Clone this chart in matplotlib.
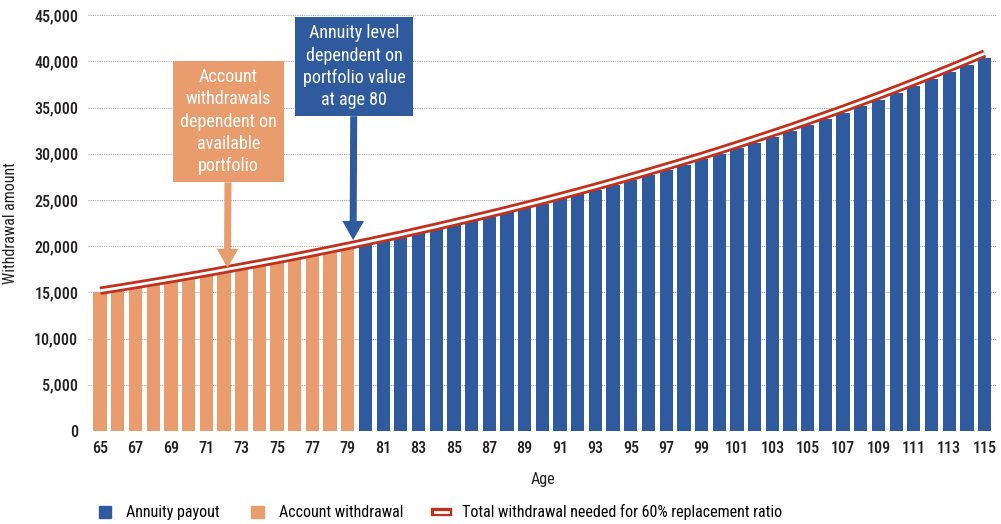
import numpy as np
import matplotlib
matplotlib.use("Agg")
import matplotlib.pyplot as plt
from matplotlib.lines import Line2D
from matplotlib.patches import Patch
from matplotlib.legend_handler import HandlerTuple
from matplotlib.ticker import FuncFormatter

plt.rcParams['font.family'] = ['Roboto Condensed', 'DejaVu Sans']

# data
ages = list(range(65, 116))
withdrawal = [15000, 15300, 15610, 15920, 16240, 16560, 16890, 17230, 17580, 17930,
              18290, 18650, 19020, 19400, 19790, 20190, 20590, 21000, 21420, 21850,
              22290, 22730, 23190, 23650, 24130, 24610, 25100, 25600, 26120, 26640,
              27170, 27710, 28270, 28830, 29410, 30000, 30600, 31210, 31830, 32470,
              33120, 33780, 34460, 35150, 35850, 36570, 37300, 38050, 38810, 39580,
              40370]
total_needed = [15180, 15480, 15790, 16110, 16430, 16760, 17090, 17440, 17790, 18140,
                18500, 18870, 19250, 19640, 20030, 20430, 20840, 21250, 21680, 22110,
                22560, 23010, 23470, 23940, 24420, 24900, 25400, 25910, 26430, 26960,
                27500, 28050, 28610, 29180, 29760, 30360, 30970, 31590, 32220, 32860,
                33520, 34190, 34870, 35570, 36280, 37010, 37750, 38500, 39270, 40060,
                40860]
annuity_start = 80
x_ticks = list(range(65, 116, 2))
y_ticks = list(range(0, 45001, 5000))

orange = '#E99C6E'
blue = '#2F5A9E'
red = '#C0321F'
text_c = '#231F20'

fig = plt.figure(figsize=(10.01, 5.24), dpi=100)
ax = fig.add_axes([0.088, 0.1775, 0.908, 0.7935])

colors = [orange if a < annuity_start else blue for a in ages]
ax.bar(ages, withdrawal, width=0.75, color=colors, zorder=2)

# double red line: thick red with thin white core
ax.plot(ages, total_needed, color=red, lw=6, solid_capstyle='butt', zorder=3)
ax.plot(ages, total_needed, color='white', lw=2, solid_capstyle='butt', zorder=4)

ax.set_xlim(64.32, 115.7)
ax.set_ylim(0, 45000)
ax.set_xticks(x_ticks)
ax.set_yticks(y_ticks)
ax.yaxis.set_major_formatter(FuncFormatter(lambda v, p: f"{int(v):,}"))
ax.tick_params(length=0, labelsize=11.5, colors=text_c, pad=7)
for lbl in ax.get_xticklabels() + ax.get_yticklabels():
    lbl.set_fontweight('medium')
ax.grid(axis='y', color='#AAAAAA', linestyle=(0, (1, 1)), lw=0.8, zorder=0)
for s in ax.spines.values():
    s.set_visible(False)

ax.set_xlabel('Age', fontsize=11.5, color=text_c, labelpad=12)
ax.set_ylabel('Withdrawal amount', fontsize=11.5, color=text_c, labelpad=12)

arrow_style = 'simple,head_width=1.3,head_length=1.15,tail_width=0.42'
ax.annotate('Account\nwithdrawals\ndependent on\navailable\nportfolio',
            xy=(72.2, 17650), xytext=(72.25, 33480), textcoords='data',
            ha='center', va='center', fontsize=13, color='white', linespacing=1.3,
            bbox=dict(boxstyle='square,pad=0.4', fc=orange, ec='none'),
            arrowprops=dict(arrowstyle=arrow_style, fc=orange, ec='none',
                            shrinkA=0, shrinkB=0, mutation_scale=12),
            zorder=5, annotation_clip=False)
ax.annotate('Annuity level\ndependent on\nportfolio value\nat age 80',
            xy=(79.3, 20660), xytext=(79.35, 39430), textcoords='data',
            ha='center', va='center', fontsize=13, color='white', linespacing=1.3,
            bbox=dict(boxstyle='square,pad=0.4', fc=blue, ec='none'),
            arrowprops=dict(arrowstyle=arrow_style, fc=blue, ec='none',
                            shrinkA=0, shrinkB=0, mutation_scale=12),
            zorder=5, annotation_clip=False)

handles = [Patch(color=blue), Patch(color=orange),
           (Line2D([], [], color=red, lw=6), Line2D([], [], color='white', lw=2))]
labels = ['Annuity payout', 'Account withdrawal',
          'Total withdrawal needed for 60% replacement ratio']
fig.legend(handles, labels, loc='center', bbox_to_anchor=(0.44, 0.022), ncol=3,
           frameon=False, fontsize=11.5, handlelength=0.8, handleheight=0.8,
           columnspacing=2.0, handletextpad=0.9,
           handler_map={tuple: HandlerTuple(ndivide=1)})

fig.savefig('out.png', dpi=100)
